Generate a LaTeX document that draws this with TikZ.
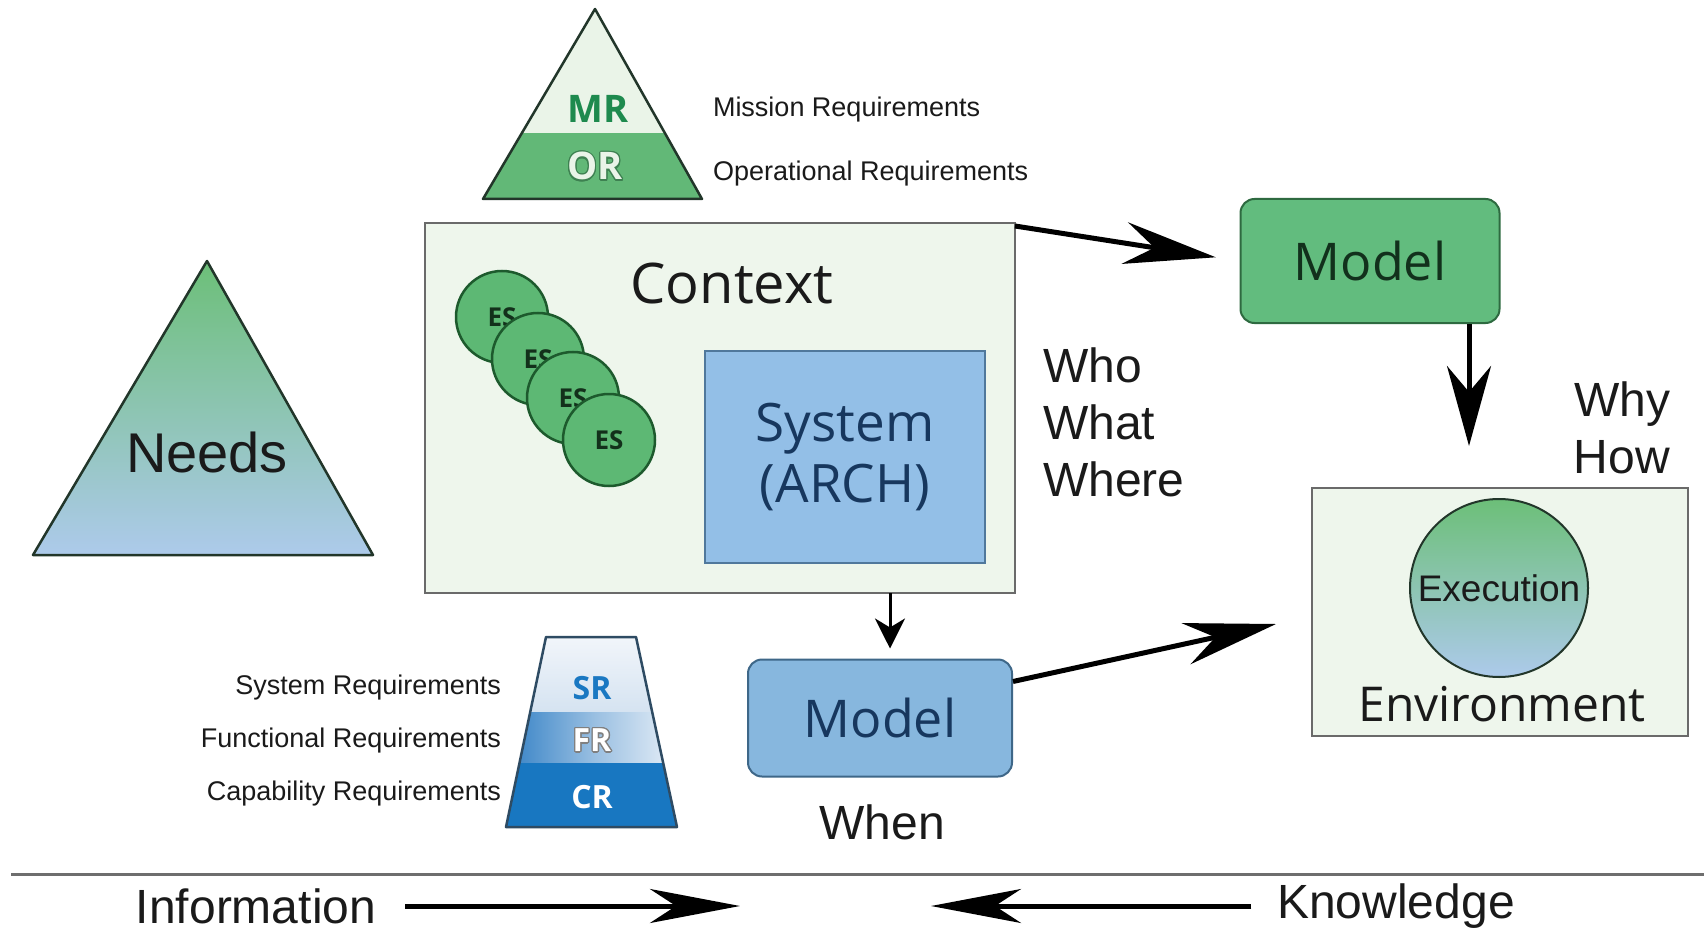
\documentclass[tikz,border=0pt]{standalone}
\usepackage{fontspec}
\usepackage[copies]{contour}
\usetikzlibrary{arrows.meta,calc}
\newfontfamily\arialfont{Liberation Sans}
\newfontfamily\humfont{Open Sans}
\contourlength{1.3pt}

\definecolor{ctxfill}{HTML}{EEF6EC}
\definecolor{boxline}{HTML}{6A6A6A}
\definecolor{sysfill}{HTML}{93BFE7}
\definecolor{sysline}{HTML}{50789C}
\definecolor{systext}{HTML}{17375E}
\definecolor{esfill}{HTML}{5DB874}
\definecolor{esline}{HTML}{1D5A2D}
\definecolor{estext}{HTML}{13301B}
\definecolor{mgreen}{HTML}{62BC7E}
\definecolor{mgreenline}{HTML}{2E6A40}
\definecolor{mgreentext}{HTML}{12301C}
\definecolor{mblue}{HTML}{87B7DE}
\definecolor{mblueline}{HTML}{3E6788}
\definecolor{needgreen}{HTML}{6CBF78}
\definecolor{needmid}{HTML}{98C4C6}
\definecolor{needblue}{HTML}{ADCAEB}
\definecolor{tridark}{HTML}{22362A}
\definecolor{mrlight}{HTML}{EAF4E8}
\definecolor{orgreen}{HTML}{62B877}
\definecolor{mrtext}{HTML}{1E8A4E}
\definecolor{srtext}{HTML}{1A78C2}
\definecolor{crblue}{HTML}{1877C1}
\definecolor{frblue}{HTML}{2C7CC3}
\definecolor{srtop}{HTML}{F4F7FB}
\definecolor{srbot}{HTML}{D5E3F1}
\definecolor{trapline}{HTML}{2E4B63}
\definecolor{inktext}{HTML}{1A1A1A}
\definecolor{rulegray}{HTML}{6E6E6E}

\begin{document}
\begin{tikzpicture}[x=1pt,y=-1pt,
  plain/.style={inner sep=0pt, outer sep=0pt, text=inktext},
  sanslabel/.style={plain, font=\arialfont\fontsize{48}{57}\selectfont},
  reqlabel/.style={plain, font=\arialfont\fontsize{27}{30}\selectfont},
  ctxbox/.style={draw=boxline, fill=ctxfill, line width=2pt, inner sep=0pt, outer sep=0pt},
  esdisc/.style={circle, draw=esline, fill=esfill, line width=2.5pt, minimum size=92pt,
    inner sep=0pt, text=estext, font=\humfont\bfseries\fontsize{26}{28}\selectfont},
  modelgreen/.style={draw=mgreenline, fill=mgreen, line width=2pt, rounded corners=14pt,
    minimum width=259pt, minimum height=124pt, inner sep=0pt, text=mgreentext,
    font=\humfont\fontsize{52}{56}\selectfont},
  modelblue/.style={draw=mblueline, fill=mblue, line width=2pt, rounded corners=14pt,
    minimum width=264pt, minimum height=117pt, inner sep=0pt, text=systext,
    font=\humfont\fontsize{52}{56}\selectfont},
  bigarrow/.style={line width=5pt, -{Stealth[length=92pt, width=42pt, inset=30pt]}},
  downarrow/.style={line width=5pt, -{Stealth[length=80pt, width=44pt, inset=26pt]}},
  smallarrow/.style={line width=3pt, -{Stealth[length=30pt, width=30pt, inset=9pt]}},
  flatarrow/.style={line width=5pt, -{Stealth[length=90pt, width=34pt, inset=26pt]}}
]
\fill[white] (0,0) rectangle (1707,933);
\useasboundingbox (0,0) rectangle (1707,933);

% ---- Needs triangle ----
\coordinate (nA) at (207,261);
\coordinate (nL) at (33,555);
\coordinate (nR) at (373,555);
\shade[top color=needgreen, middle color=needmid, bottom color=needblue]
  (nA) -- (nL) -- (nR) -- cycle;
\draw[line width=2.5pt, draw=tridark, line join=round] (nA) -- (nL) -- (nR) -- cycle;
\node[plain, font=\arialfont\fontsize{56}{60}\selectfont] (needs) at (207,452) {Needs};

% ---- Mission / operational requirements ----
\coordinate (mA) at (595,9);
\coordinate (mL) at (483,199);
\coordinate (mR) at (702,199);
\begin{scope}
  \clip (mA) -- (mL) -- (mR) -- cycle;
  \fill[mrlight] (470,0) rectangle (720,133);
  \fill[orgreen] (470,133) rectangle (720,210);
\end{scope}
\draw[line width=2.5pt, draw=tridark, line join=round] (mA) -- (mL) -- (mR) -- cycle;
\node[plain, text=mrtext, font=\humfont\bfseries\fontsize{38}{40}\selectfont] (mr) at (598,109) {MR};
\node[plain, text=mrlight, font=\humfont\bfseries\fontsize{38}{40}\selectfont] (or) at (595,167)
  {\contour{mgreenline!70!orgreen}{OR}};
\node[reqlabel, anchor=west] (mreq) at (713,110) {Mission Requirements};
\node[reqlabel, anchor=west] (oreq) at (713,174) {Operational Requirements};

% ---- Context with external systems and the system ----
\node[ctxbox, minimum width=590pt, minimum height=370pt] (ctx) at (720,408) {};
\node[plain, font=\humfont\fontsize{56}{60}\selectfont] (ctxlabel) at (732,283) {Context};
\node[esdisc] (es1) at (502,317) {ES};
\node[esdisc] (es2) at (538,359) {ES};
\node[esdisc] (es3) at (573,398) {ES};
\node[esdisc] (es4) at (609,440) {ES};
\node[draw=sysline, fill=sysfill, line width=2pt, minimum width=280pt, minimum height=212pt,
  inner sep=0pt, text=systext, align=center, font=\humfont\fontsize{53}{60}\selectfont]
  (sys) at (845,457) {System\\(ARCH)};

% ---- Models ----
\node[modelgreen] (mtop) at (1370,261) {Model};
\node[modelblue] (mbot) at (880,718) {Model};

% ---- Environment ----
\node[ctxbox, minimum width=376pt, minimum height=248pt] (env) at (1500,612) {};
\node[circle, draw=tridark, line width=2pt, minimum size=178pt, inner sep=0pt,
  top color=needgreen, middle color=needblue!80!needgreen, bottom color=needblue,
  text=inktext, font=\arialfont\fontsize{37}{40}\selectfont] (exec) at (1499,588) {Execution};
\node[plain, font=\humfont\fontsize{48}{52}\selectfont] (envlabel) at (1502,704) {Environment};

% ---- Question words ----
\node[sanslabel, align=left, anchor=west] (www) at (1043,422) {Who\\What\\Where};
\node[sanslabel, align=right, anchor=east] (wh) at (1670,428) {Why\\How};
\node[sanslabel] (when) at (882,822) {When};

% ---- System / functional / capability requirements ----
\coordinate (tTL) at (546,637);
\coordinate (tTR) at (636,637);
\coordinate (tBL) at (506,827);
\coordinate (tBR) at (677,827);
\begin{scope}
  \clip (tTL) -- (tTR) -- (tBR) -- (tBL) -- cycle;
  \shade[top color=srtop, bottom color=srbot] (500,630) rectangle (690,712);
  \shade[left color=frblue, right color=srtop, middle color=frblue!45!srtop] (500,712) rectangle (690,763);
  \fill[crblue] (500,763) rectangle (690,835);
\end{scope}
\draw[line width=2.5pt, draw=trapline, line join=round] (tTL) -- (tTR) -- (tBR) -- (tBL) -- cycle;
\node[plain, text=srtext, font=\humfont\bfseries\fontsize{32}{34}\selectfont] (sr) at (592,688) {SR};
\node[plain, text=white, font=\humfont\bfseries\fontsize{32}{34}\selectfont] (fr) at (592,741)
  {\contour{gray}{FR}};
\node[plain, text=white, font=\humfont\bfseries\fontsize{32}{34}\selectfont] (cr) at (592,797) {CR};
\node[reqlabel, anchor=east] (sreq) at (501,688) {System Requirements};
\node[reqlabel, anchor=east] (freq) at (501,741) {Functional Requirements};
\node[reqlabel, anchor=east] (creq) at (501,794) {Capability Requirements};

% ---- Flow arrows ----
\draw[bigarrow, shorten >=24pt] ($(ctx.north east)+(0,3)$) -- (mtop.west);
\coordinate (envtop) at (1469,446);
\draw[downarrow] (mtop.south -| envtop) -- (envtop);
\draw[smallarrow, shorten >=10pt] (ctx.south -| 890,0) -- (mbot.north -| 890,0);
\coordinate (envleft) at (1276,624);
\draw[bigarrow] ($(mbot.north east)+(0,23)$) -- (envleft);

% ---- Information / knowledge axis ----
\coordinate (ruleL) at (11,874);
\coordinate (ruleR) at (1704,874);
\draw[rulegray, line width=3pt] (ruleL) -- (ruleR);
\node[sanslabel] (info) at (256,906) {Information};
\node[sanslabel] (know) at (1396,906) {Knowledge};
\coordinate (infoend) at (740,906);
\coordinate (knowend) at (931,906);
\draw[flatarrow, shorten <=29pt] (info.east) -- (infoend);
\draw[flatarrow, shorten <=26pt] (know.west) -- (knowend);
\end{tikzpicture}
\end{document}
